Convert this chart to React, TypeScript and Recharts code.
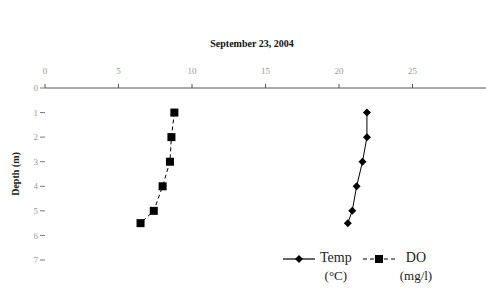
import { LineChart, Line, XAxis, YAxis, Legend } from 'recharts';

// depth profile, September 23, 2004
const depths = [1, 2, 3, 4, 5, 5.5];
const tempValues = [21.9, 21.9, 21.6, 21.2, 20.9, 20.6];
const doValues = [8.8, 8.6, 8.5, 8.0, 7.4, 6.5];
const xTicks = [0, 5, 10, 15, 20, 25];
const depthTicks = [0, 1, 2, 3, 4, 5, 6, 7];

const seriesLabels = [
  { key: 'temp', name: 'Temp', unit: '(°C)', dashed: false, shape: 'diamond' },
  { key: 'do', name: 'DO', unit: '(mg/l)', dashed: true, shape: 'square' },
];

const data = depths.map((d, i) => ({ depth: d, temp: tempValues[i], do: doValues[i] }));

const FONT = '"Liberation Serif", "DejaVu Serif", serif';

const Diamond = (props: any) => {
  const { cx, cy } = props;
  if (cx == null || cy == null) return null;
  const r = 4;
  return <path d={`M${cx},${cy - r}L${cx + r},${cy}L${cx},${cy + r}L${cx - r},${cy}Z`} fill="#000" />;
};

const Square = (props: any) => {
  const { cx, cy } = props;
  if (cx == null || cy == null) return null;
  return <rect x={cx - 4} y={cy - 4} width={8} height={8} fill="#000" />;
};

const LegendContent = () => (
  <div style={{ display: 'flex', fontFamily: FONT, fontSize: 14, color: '#222' }}>
    {seriesLabels.map((s) => (
      <div key={s.key} style={{ display: 'flex', marginRight: 10 }}>
        <svg width={34} height={16} style={{ marginTop: 2 }}>
          <line x1={1} y1={8} x2={33} y2={8} stroke="#000" strokeWidth={1.2} strokeDasharray={s.dashed ? '4 3' : undefined} />
          {s.shape === 'diamond' ? (
            <path d="M17,4L21,8L17,12L13,8Z" fill="#000" />
          ) : (
            <rect x={13} y={4} width={8} height={8} fill="#000" />
          )}
        </svg>
        <div style={{ marginLeft: 4, lineHeight: '18px', textAlign: 'center' }}>
          <div>{s.name}</div>
          <div style={{ fontSize: 13 }}>{s.unit}</div>
        </div>
      </div>
    ))}
  </div>
);

const App = () => {
  return (
    <div style={{ position: 'absolute', left: 0, top: 0, width: 486, height: 299, background: '#fff' }}>
      <div
        style={{
          position: 'absolute',
          top: 38,
          left: 0,
          width: 504,
          textAlign: 'center',
          fontFamily: FONT,
          fontWeight: 'bold',
          fontSize: 10,
          color: '#111',
        }}
      >
        September 23, 2004
      </div>
      <LineChart
        width={486}
        height={299}
        layout="vertical"
        data={data}
        margin={{ top: 58, right: 0, bottom: 39, left: 20 }}
      >
        <XAxis
          type="number"
          orientation="top"
          domain={[0, 30]}
          ticks={xTicks}
          height={30}
          stroke="#555"
          tickSize={4}
          tickMargin={10}
          tick={{ fill: '#999', fontSize: 9, fontFamily: FONT }}
        />
        <YAxis
          type="number"
          dataKey="depth"
          domain={[0, 7]}
          ticks={depthTicks}
          width={25}
          axisLine={false}
          tickLine={{ stroke: '#777' }}
          tickSize={5}
          tick={{ fill: '#999', fontSize: 9, fontFamily: FONT }}
          label={{
            value: 'Depth (m)',
            angle: -90,
            position: 'insideLeft',
            offset: -5,
            style: { fontFamily: FONT, fontWeight: 'bold', fontSize: 10, fill: '#222', textAnchor: 'middle' },
          }}
        />
        <Legend
          layout="horizontal"
          align="center"
          verticalAlign="middle"
          wrapperStyle={{ left: 282, top: 249, width: 200 }}
          content={LegendContent}
        />
        <Line
          dataKey="temp"
          name="Temp (°C)"
          stroke="#000"
          strokeWidth={1}
          dot={<Diamond />}
          isAnimationActive={false}
        />
        <Line
          dataKey="do"
          name="DO (mg/l)"
          stroke="#000"
          strokeWidth={1}
          strokeDasharray="4 3"
          dot={<Square />}
          isAnimationActive={false}
        />
      </LineChart>
    </div>
  );
};

export default App;
